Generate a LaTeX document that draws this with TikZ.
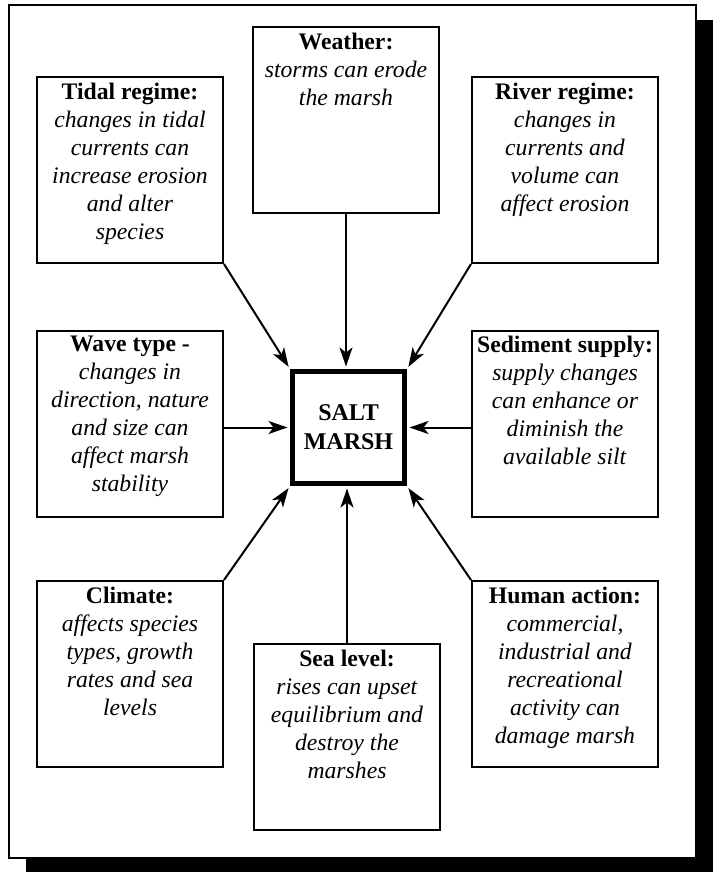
\documentclass[tikz,border=0pt]{standalone}
\usepackage{fontspec}
\setmainfont{Liberation Serif}
\usetikzlibrary{arrows.meta}
\begin{document}
\begin{tikzpicture}[x=1pt,y=-1pt,
  box/.style={draw, line width=2pt, minimum width=186pt, minimum height=186pt, inner sep=0pt, fill=white},
  hub/.style={draw, line width=5pt, minimum width=112pt, minimum height=112pt, inner sep=0pt, align=center,
    font=\fontsize{24}{29}\selectfont\bfseries},
  txt/.style={anchor=north, align=center, inner sep=0pt, font=\fontsize{23.7}{28}\selectfont},
  arr/.style={line width=2pt, -{Stealth[length=19pt,width=13pt,inset=5pt]}, shorten >=2.5pt}]
\useasboundingbox (0,0) rectangle (720,872);
% frame with shadow
\fill[black] (26,20) rectangle (713,872);
\draw[line width=2pt, fill=white] (9,5) rectangle (696,858);
% boxes
\node[box] (tidal) at (130,170) {};
\node[box] (weather) at (346,120) {};
\node[box] (river) at (565,170) {};
\node[box] (wave) at (130,423.5) {};
\node[box] (sediment) at (565,423.5) {};
\node[box] (climate) at (130,674) {};
\node[box] (sea) at (347,737) {};
\node[box] (human) at (565,674) {};
\node[hub] (marsh) at (348.5,427.5) {SALT\\MARSH};
% texts
\node[txt] (tidalt) at ([yshift=-6.5pt]tidal.north) {\textbf{Tidal regime:}\\\textit{changes in tidal}\\\textit{currents can}\\\textit{increase erosion}\\\textit{and alter}\\\textit{species}};
\node[txt] (weathert) at ([yshift=-6.5pt]weather.north) {\textbf{Weather:}\\\textit{storms can erode}\\\textit{the marsh}};
\node[txt] (rivert) at ([yshift=-6.5pt]river.north) {\textbf{River regime:}\\\textit{changes in}\\\textit{currents and}\\\textit{volume can}\\\textit{affect erosion}};
\node[txt] (wavet) at ([yshift=-6.5pt]wave.north) {\textbf{Wave type -}\\\textit{changes in}\\\textit{direction, nature}\\\textit{and size can}\\\textit{affect marsh}\\\textit{stability}};
\node[txt] (sedimentt) at ([yshift=-6.5pt]sediment.north) {\textbf{Sediment supply:}\\\textit{supply changes}\\\textit{can enhance or}\\\textit{diminish the}\\\textit{available silt}};
\node[txt] (climatet) at ([yshift=-6.5pt]climate.north) {\textbf{Climate:}\\\textit{affects species}\\\textit{types, growth}\\\textit{rates and sea}\\\textit{levels}};
\node[txt] (seat) at ([yshift=-6.5pt]sea.north) {\textbf{Sea level:}\\\textit{rises can upset}\\\textit{equilibrium and}\\\textit{destroy the}\\\textit{marshes}};
\node[txt] (humant) at ([yshift=-6.5pt]human.north) {\textbf{Human action:}\\\textit{commercial,}\\\textit{industrial and}\\\textit{recreational}\\\textit{activity can}\\\textit{damage marsh}};
% arrows
\draw[arr] (tidal.south east) -- (marsh.north west);
\draw[arr] (weather.south) -- (weather.south |- marsh.north);
\draw[arr] (river.south west) -- (marsh.north east);
\draw[arr] (marsh.west -| wave.east) -- (marsh.west);
\draw[arr] (marsh.east -| sediment.west) -- (marsh.east);
\draw[arr] (climate.north east) -- (marsh.south west);
\draw[arr] (sea.north) -- (sea.north |- marsh.south);
\draw[arr] (human.north west) -- (marsh.south east);
\end{tikzpicture}
\end{document}
